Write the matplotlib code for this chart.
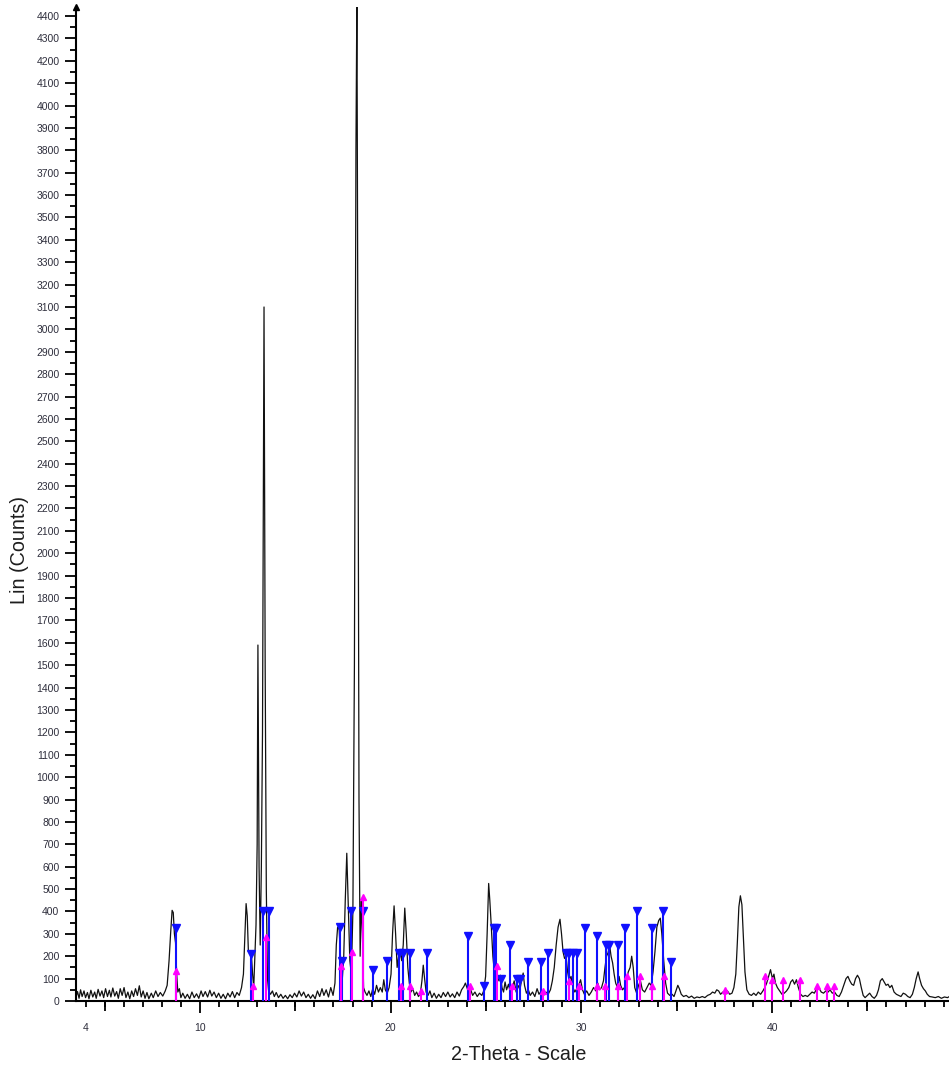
import matplotlib
matplotlib.use("Agg")
import matplotlib.pyplot as plt
from matplotlib.ticker import MultipleLocator, FixedLocator, FuncFormatter

# Measured powder pattern: (2-theta in degrees, intensity in counts)
scan_points = [
    (3.50, 18), (3.58, 42), (3.66, 12), (3.74, 50), (3.82, 20), (3.92, 45), (4.00, 15), (4.10, 38),
    (4.18, 10), (4.28, 48), (4.38, 18), (4.48, 40), (4.56, 12), (4.66, 52), (4.76, 22), (4.86, 45),
    (4.95, 15), (5.05, 55), (5.15, 20), (5.25, 48), (5.33, 18), (5.43, 58), (5.53, 22), (5.63, 42),
    (5.72, 12), (5.82, 55), (5.92, 25), (6.02, 60), (6.12, 15), (6.22, 40), (6.32, 10), (6.42, 45),
    (6.52, 20), (6.62, 55), (6.72, 25), (6.82, 68), (6.92, 18), (7.02, 45), (7.12, 12), (7.22, 38),
    (7.32, 10), (7.45, 35), (7.55, 15), (7.68, 45), (7.80, 20), (7.92, 38), (8.05, 22), (8.18, 45),
    (8.28, 70), (8.38, 180), (8.46, 300), (8.54, 405), (8.60, 395), (8.66, 300), (8.72, 260),
    (8.78, 120), (8.84, 40), (8.92, 55), (9.00, 15),
    (9.10, 35), (9.22, 12), (9.34, 30), (9.46, 10), (9.58, 40), (9.70, 15), (9.82, 32), (9.94, 12),
    (10.06, 45), (10.16, 20), (10.28, 42), (10.40, 18), (10.52, 48), (10.62, 22), (10.74, 40),
    (10.86, 15), (10.98, 35), (11.10, 12), (11.22, 30), (11.34, 10), (11.46, 35), (11.58, 18),
    (11.70, 42), (11.82, 15), (11.94, 38), (12.06, 25), (12.18, 60), (12.28, 120), (12.36, 300),
    (12.42, 435), (12.48, 380), (12.54, 220), (12.62, 215), (12.70, 205), (12.76, 120), (12.82, 60),
    (12.88, 200), (12.94, 340), (13.00, 700), (13.04, 1590), (13.10, 600), (13.16, 250), (13.22, 600),
    (13.28, 1200), (13.36, 3100), (13.42, 1500), (13.48, 500), (13.54, 100), (13.60, 45),
    (13.70, 30), (13.80, 45), (13.90, 20), (14.00, 38), (14.12, 15), (14.24, 30), (14.36, 12),
    (14.48, 25), (14.60, 10), (14.72, 28), (14.84, 15), (14.96, 35), (15.08, 18), (15.20, 45),
    (15.32, 22), (15.44, 40), (15.56, 15), (15.68, 30), (15.80, 12), (15.92, 28), (16.04, 10),
    (16.16, 45), (16.28, 20), (16.40, 55), (16.50, 25), (16.62, 50), (16.74, 18), (16.86, 60),
    (16.98, 25), (17.08, 80),
    (17.15, 250), (17.22, 330), (17.30, 320), (17.38, 180), (17.46, 90), (17.54, 200), (17.62, 450),
    (17.70, 660), (17.78, 420), (17.86, 180), (17.94, 120), (18.02, 400), (18.10, 1500), (18.18, 3800),
    (18.23, 4500), (18.28, 3000), (18.34, 900), (18.40, 200), (18.46, 455), (18.52, 300), (18.58, 60),
    (18.66, 40), (18.76, 25), (18.86, 45), (18.96, 20), (19.06, 55), (19.16, 30), (19.26, 70),
    (19.36, 40), (19.46, 60), (19.56, 40), (19.64, 95), (19.72, 50), (19.82, 35), (19.92, 60),
    (20.02, 120), (20.10, 300), (20.18, 425), (20.26, 300), (20.34, 150), (20.42, 200), (20.50, 220),
    (20.58, 180), (20.66, 250), (20.74, 415), (20.82, 300), (20.90, 150), (20.98, 80), (21.06, 40),
    (21.16, 55), (21.26, 25), (21.36, 40), (21.46, 20), (21.56, 35), (21.64, 90), (21.71, 160),
    (21.78, 100), (21.86, 40), (21.96, 25),
    (22.06, 45), (22.16, 15), (22.28, 35), (22.40, 12), (22.52, 30), (22.64, 15), (22.76, 38),
    (22.88, 20), (23.00, 40), (23.12, 18), (23.24, 32), (23.36, 15), (23.48, 40), (23.60, 22),
    (23.72, 50), (23.84, 65), (23.92, 80), (24.00, 60), (24.10, 35), (24.20, 50), (24.30, 25),
    (24.42, 40), (24.54, 20), (24.66, 35), (24.78, 25), (24.88, 45), (24.98, 110), (25.06, 300),
    (25.14, 525), (25.20, 450), (25.28, 330), (25.36, 200), (25.44, 130), (25.52, 100), (25.60, 110),
    (25.68, 90), (25.76, 115), (25.84, 60), (25.92, 40), (26.00, 85), (26.08, 50), (26.18, 75),
    (26.28, 35), (26.38, 60), (26.48, 90), (26.58, 40), (26.68, 70), (26.78, 50), (26.88, 100),
    (26.95, 125), (27.02, 70), (27.12, 35), (27.22, 50), (27.32, 25), (27.44, 40), (27.56, 20),
    (27.68, 55), (27.78, 30), (27.90, 45), (28.02, 25), (28.14, 40), (28.26, 30), (28.38, 50),
    (28.48, 90), (28.58, 150), (28.68, 250), (28.78, 330), (28.88, 365), (28.96, 300), (29.04, 220),
    (29.12, 190), (29.20, 200), (29.28, 130), (29.36, 90), (29.46, 110), (29.56, 60), (29.66, 40),
    (29.76, 55), (29.86, 70), (29.96, 95), (30.06, 50), (30.16, 30), (30.28, 45), (30.40, 25),
    (30.52, 40), (30.64, 60), (30.76, 45), (30.86, 80), (30.96, 50), (31.06, 60), (31.16, 90),
    (31.24, 150), (31.32, 200), (31.40, 215), (31.48, 250), (31.56, 200), (31.64, 170), (31.72, 120),
    (31.80, 80), (31.90, 60), (31.98, 110), (32.06, 70), (32.16, 50), (32.26, 60), (32.36, 90),
    (32.46, 130), (32.56, 150), (32.64, 200), (32.72, 150), (32.80, 60), (32.90, 35), (33.00, 70),
    (33.10, 90), (33.20, 50), (33.32, 40), (33.44, 60), (33.56, 80), (33.66, 70), (33.76, 130),
    (33.86, 220), (33.96, 330), (34.06, 360), (34.14, 370), (34.22, 300), (34.32, 180), (34.42, 80),
    (34.52, 35), (34.64, 25), (34.76, 30), (34.86, 20), (34.96, 45), (35.06, 70), (35.14, 55),
    (35.24, 30), (35.36, 20), (35.50, 25), (35.64, 15), (35.78, 22), (35.92, 12), (36.06, 18),
    (36.20, 15), (36.34, 20), (36.48, 15), (36.62, 25), (36.76, 30), (36.88, 40), (37.00, 35),
    (37.10, 50), (37.20, 45), (37.30, 30), (37.42, 40), (37.54, 25), (37.66, 45), (37.78, 30),
    (37.90, 35), (38.00, 60), (38.10, 120), (38.18, 260), (38.26, 420), (38.34, 470), (38.42, 430),
    (38.50, 280), (38.58, 130), (38.68, 50), (38.80, 30), (38.92, 25), (39.04, 35), (39.16, 25),
    (39.28, 40), (39.40, 30), (39.52, 45), (39.62, 60), (39.72, 80), (39.82, 110), (39.92, 140),
    (40.02, 100), (40.10, 120), (40.18, 80), (40.28, 60), (40.40, 45), (40.52, 30), (40.64, 35),
    (40.76, 45), (40.88, 60), (40.98, 85), (41.08, 95), (41.18, 75), (41.28, 95), (41.38, 60),
    (41.50, 30), (41.62, 20), (41.74, 25), (41.86, 20), (41.98, 30), (42.10, 40), (42.22, 35),
    (42.34, 55), (42.46, 58), (42.58, 40), (42.70, 35), (42.82, 45), (42.94, 40), (43.04, 50),
    (43.16, 35), (43.28, 40), (43.40, 25), (43.52, 20), (43.64, 40), (43.76, 70), (43.88, 100),
    (43.98, 110), (44.08, 90), (44.18, 75), (44.28, 70), (44.38, 100), (44.48, 115), (44.58, 100),
    (44.68, 60), (44.78, 25), (44.88, 15), (45.00, 25), (45.12, 35), (45.24, 20), (45.36, 12),
    (45.48, 25), (45.58, 50), (45.68, 90), (45.78, 100), (45.88, 85), (45.98, 70), (46.08, 75),
    (46.18, 60), (46.28, 70), (46.40, 40), (46.52, 30), (46.64, 25), (46.76, 20), (46.88, 35),
    (47.00, 30), (47.12, 20), (47.24, 15), (47.36, 30), (47.46, 60), (47.56, 100), (47.66, 130),
    (47.74, 100), (47.84, 70), (47.94, 55), (48.04, 45), (48.14, 30), (48.26, 20), (48.40, 18),
    (48.56, 15), (48.72, 20), (48.88, 12), (49.04, 18), (49.20, 15), (49.30, 20),
]

# Reference reflections, phase 1 (blue sticks)
phase1_2theta = [8.74, 12.70, 13.30, 13.60, 17.34, 17.45, 17.90, 18.56, 19.06, 19.82,
                 20.45, 20.63, 21.01, 21.89, 24.07, 24.89, 25.43, 25.52, 25.80, 26.24,
                 26.60, 26.78, 27.22, 27.87, 28.27, 29.17, 29.37, 29.54, 29.75, 30.19,
                 30.84, 31.30, 31.47, 31.90, 32.28, 32.90, 33.68, 34.30, 34.70]
phase1_counts = [325, 210, 400, 400, 330, 180, 400, 400, 140, 180,
                 215, 215, 215, 215, 290, 65, 325, 325, 100, 250,
                 100, 100, 175, 175, 215, 215, 215, 215, 215, 325,
                 290, 250, 250, 250, 325, 400, 325, 400, 175]

# Reference reflections, phase 2 (magenta sticks)
phase2_2theta = [8.74, 12.78, 13.44, 17.38, 17.95, 18.56, 20.52, 21.00, 21.59, 24.16,
                 25.59, 26.34, 28.00, 29.37, 29.88, 30.84, 31.23, 31.93, 32.41, 33.08,
                 33.70, 34.33, 37.55, 39.63, 40.00, 40.55, 41.46, 42.35, 42.86, 43.27]
phase2_counts = [135, 65, 285, 155, 220, 465, 65, 65, 45, 65,
                 155, 65, 45, 90, 65, 65, 65, 65, 110, 110,
                 65, 110, 48, 110, 92, 95, 95, 68, 68, 68]

x_major_ticks = [10, 20, 30, 40]
x_mid_ticks = [5, 15, 25, 35, 45]
x_labelled_minor = [4]

plt.rcParams['font.family'] = ['Liberation Sans', 'DejaVu Sans']

W, H = 949, 1072
fig = plt.figure(figsize=(W / 100, H / 100), dpi=100)
ax = fig.add_axes([76 / W, 1 - 1001 / H, 1 - 76 / W, (1001 - 7) / H])

scan_x = [p[0] for p in scan_points]
scan_y = [p[1] for p in scan_points]
ax.plot(scan_x, scan_y, color='#111111', lw=0.9, zorder=2)

ax.vlines(phase1_2theta, 0, phase1_counts, colors='#1010ff', lw=1.5, zorder=3)
ax.plot(phase1_2theta, phase1_counts, linestyle='none', marker='v', color='#1010ff',
        ms=5.2, zorder=4)
ax.vlines(phase2_2theta, 0, phase2_counts, colors='#ff00ff', lw=1.5, zorder=5)
ax.plot(phase2_2theta, phase2_counts, linestyle='none', marker='^', color='#ff00ff',
        ms=5, zorder=6)

ax.set_xlim(3.5, 49.28)
ax.set_ylim(0, 4440)

for side in ('top', 'right'):
    ax.spines[side].set_visible(False)
for side in ('left', 'bottom'):
    ax.spines[side].set_linewidth(1.5)

label_color = '#2e2e3c'

# y axis: a labelled tick every 100 counts, minor every 50
ax.yaxis.set_major_locator(MultipleLocator(100))
ax.yaxis.set_minor_locator(MultipleLocator(50))
ax.tick_params(axis='y', which='major', direction='out', length=7.9, width=1.3,
               pad=4.0, labelsize=7.5, labelcolor=label_color)
ax.tick_params(axis='y', which='minor', direction='out', length=4.3, width=1.3)

# x axis: long ticks at tens, medium at fives, short every degree
ax.xaxis.set_major_locator(FixedLocator(x_major_ticks))
ax.xaxis.set_minor_locator(MultipleLocator(1))
ax.xaxis.set_minor_formatter(FuncFormatter(
    lambda v, pos: f"{v:g}" if round(v) in x_labelled_minor else ""))
ax.tick_params(axis='x', which='major', direction='out', length=8.6, width=1.3,
               pad=7.5, labelsize=7.5, labelcolor=label_color)
ax.tick_params(axis='x', which='minor', direction='out', length=4.3, width=1.3,
               pad=11.8, labelsize=7.5, labelcolor=label_color)

mid = ax.secondary_xaxis('bottom')
mid.set_xticks(x_mid_ticks)
mid.tick_params(direction='out', length=7.2, width=1.3, labelbottom=False)
mid.spines['bottom'].set_visible(False)

# arrow head at the top of the intensity axis
ax.plot([0], [1], marker='^', color='black', ms=5, transform=ax.transAxes,
        clip_on=False, zorder=7)

fig.text(20 / W, 1 - 550 / H, 'Lin (Counts)', rotation=90, ha='center', va='center',
         fontsize=14.2, color='#1e1e1e')
fig.text(519 / W, 1 - 1055 / H, '2-Theta - Scale', ha='center', va='center',
         fontsize=14.2, color='#1e1e1e')

fig.savefig('out.png', dpi=100)
